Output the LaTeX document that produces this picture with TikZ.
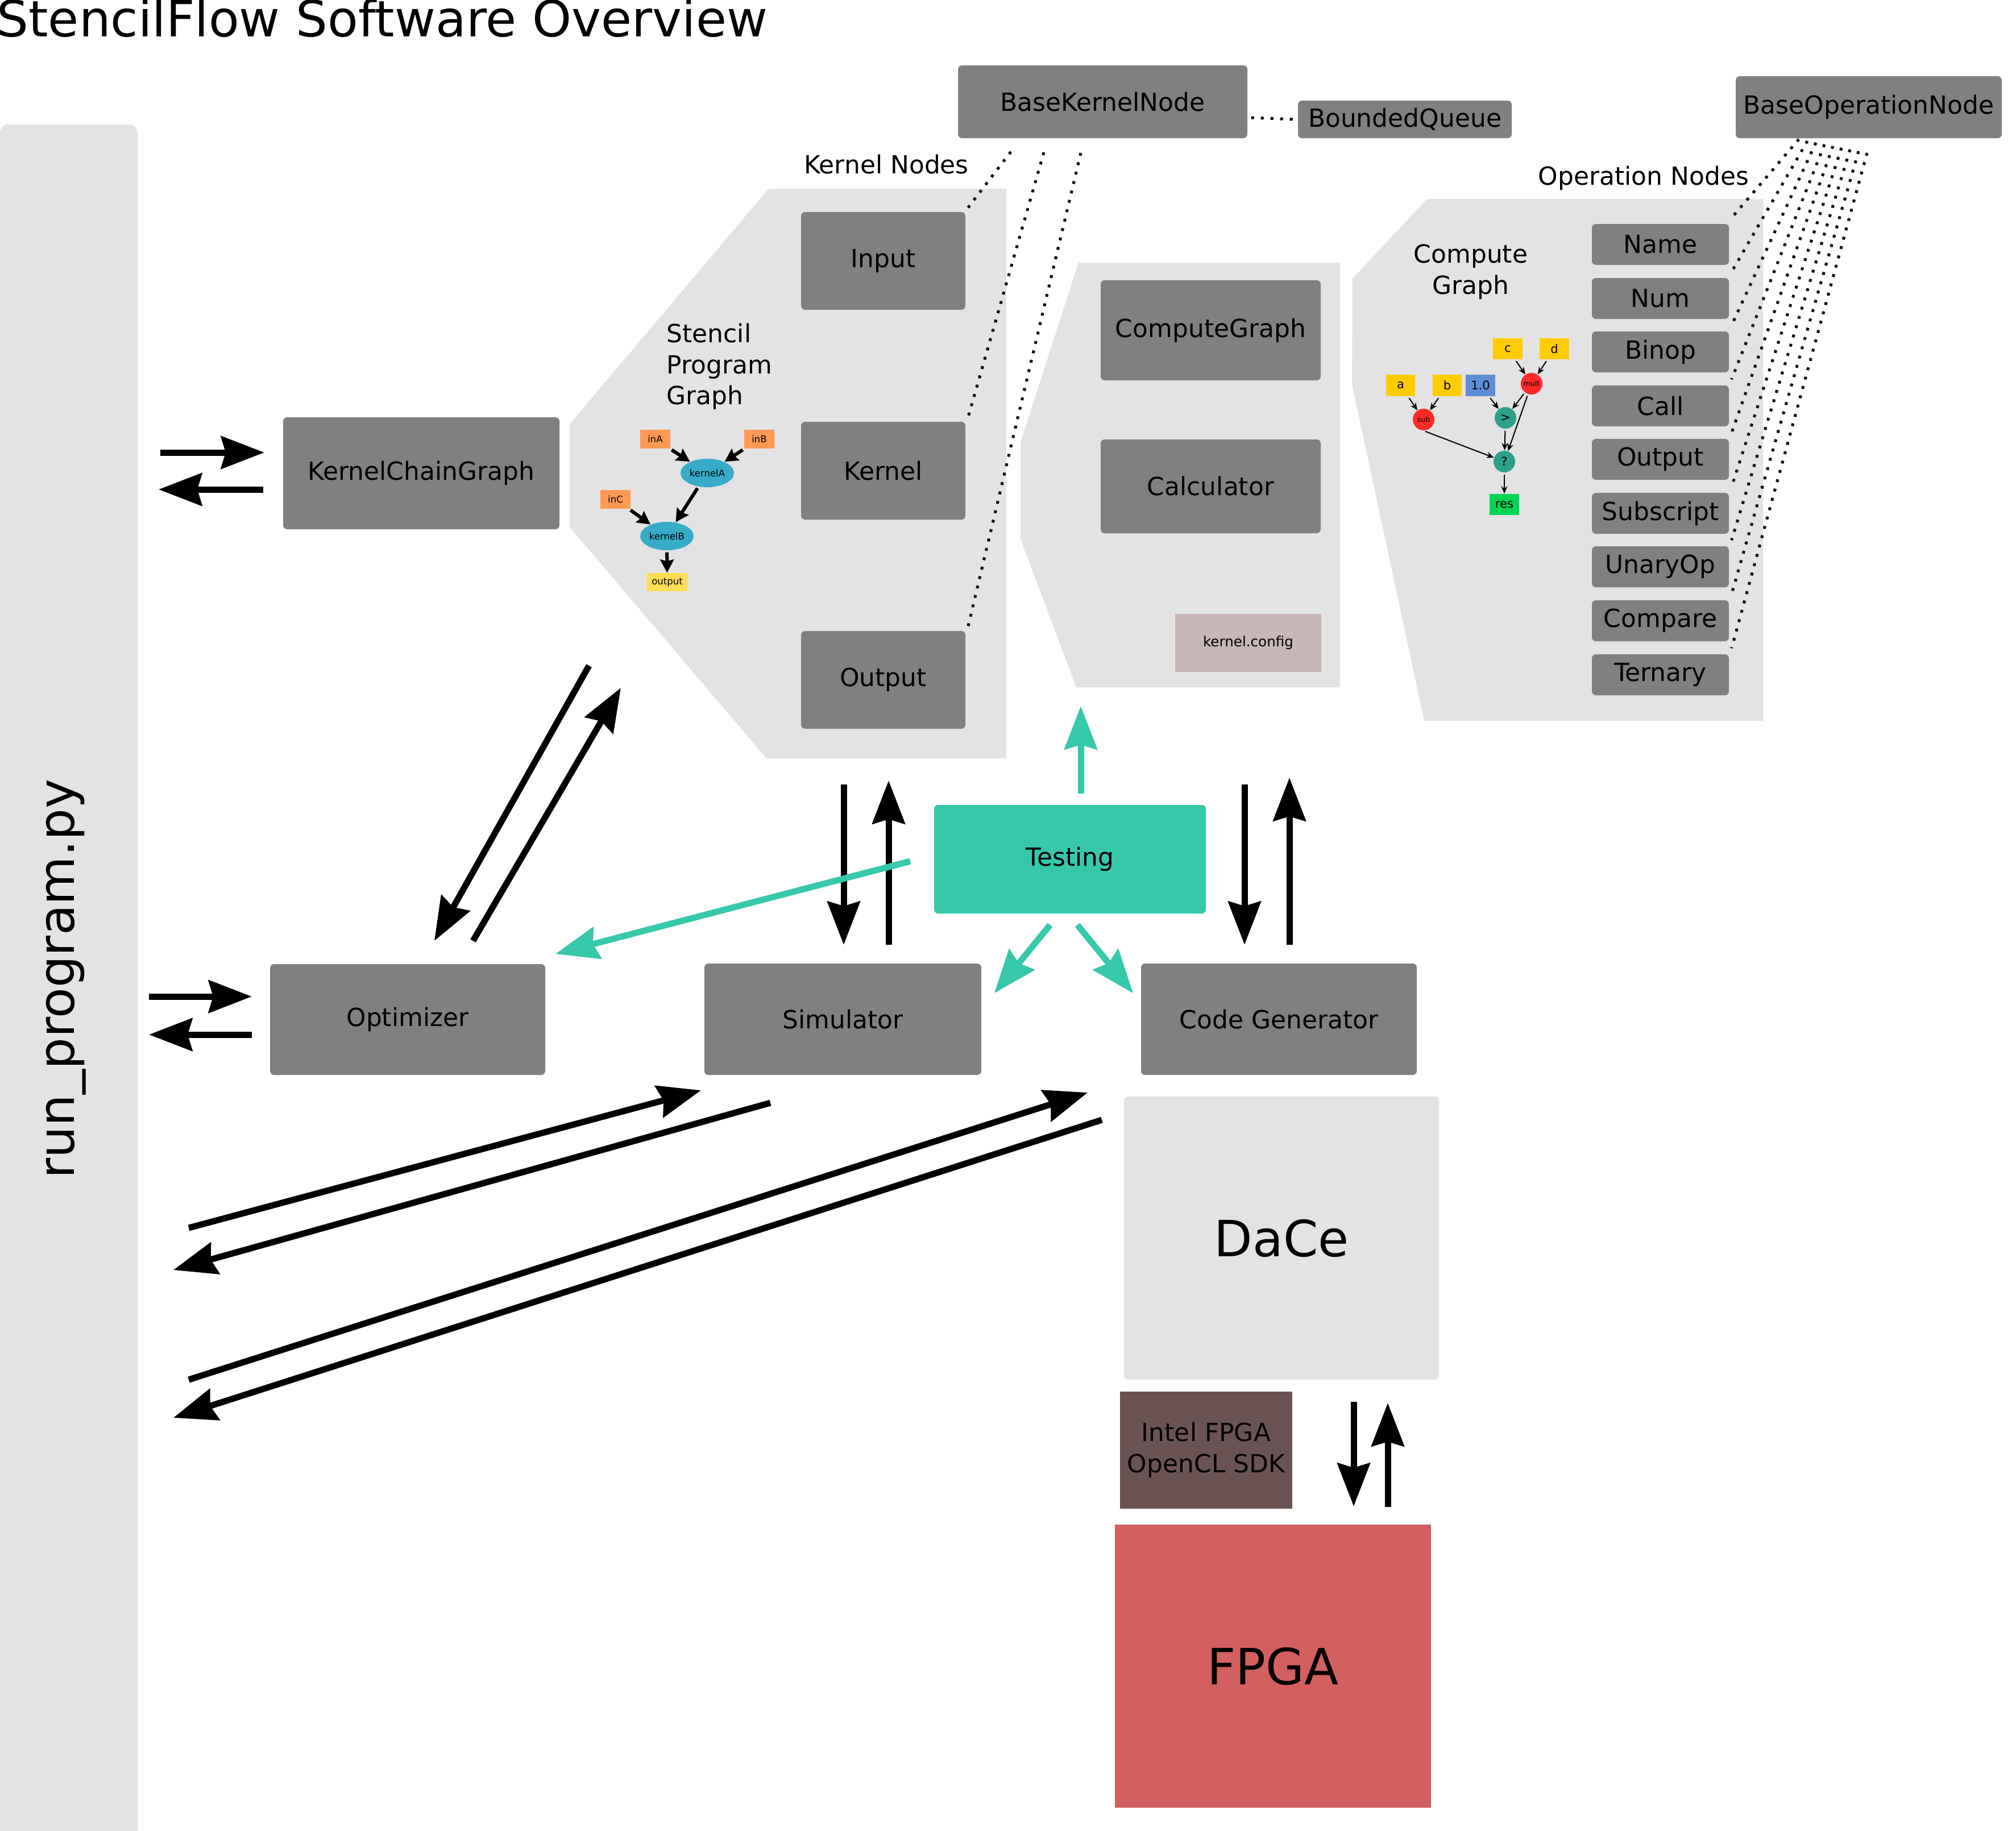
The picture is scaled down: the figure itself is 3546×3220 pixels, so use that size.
\documentclass[tikz,border=0pt]{standalone}
\usepackage{fontspec}
\setmainfont{DejaVu Sans}
\usetikzlibrary{arrows.meta,fit,shapes.geometric}
\definecolor{boxgrey}{HTML}{808080}
\definecolor{panelgrey}{HTML}{E3E3E3}
\definecolor{tealc}{HTML}{37C8AB}
\definecolor{intelc}{HTML}{6C5353}
\definecolor{fpgac}{HTML}{D35F5F}
\definecolor{cfgc}{HTML}{C8B7B7}
\definecolor{orangec}{HTML}{FF9955}
\definecolor{bluec}{HTML}{37ABC8}
\definecolor{yellowo}{HTML}{FFDD55}
\definecolor{yellowc}{HTML}{FFCC00}
\definecolor{blue10}{HTML}{5F8DD3}
\definecolor{redc}{HTML}{FF2A2A}
\definecolor{tealdk}{HTML}{2CA089}
\definecolor{greenc}{HTML}{00D455}
\newcommand{\mybox}[7]{\node[#1, minimum width={(#5-#3)*0.01cm}, minimum height={(#6-#4)*0.01cm}] (#2) at ({(#3+#5)/2},{(#4+#6)/2}) {#7};}
\begin{document}
\begin{tikzpicture}[x=0.01cm,y=-0.01cm,font=\fontsize{12.5}{15.5}\selectfont]
\tikzset{
 gbox/.style={fill=boxgrey, rounded corners=0.07cm, inner sep=0pt},
 panel/.style={fill=panelgrey},
 bigarrow/.style={line width=0.11cm, -{Stealth[length=0.76cm,width=0.57cm,inset=0.08cm]}},
 tealarrow/.style={bigarrow, draw=tealc},
 sgbox/.style={inner sep=0pt, font=\fontsize{4.7}{5}\selectfont},
 sgarrow/.style={line width=0.06cm, -{Stealth[length=0.23cm,width=0.24cm,inset=0.03cm]}, shorten <=0.03cm},
 cgbox/.style={inner sep=0pt, font=\fontsize{6}{7}\selectfont},
 cgcirc/.style={circle, minimum size=0.38cm, inner sep=0pt, font=\fontsize{6}{7}\selectfont},
 cgarrow/.style={line width=0.02cm, -{Stealth[length=0.13cm,width=0.11cm]}, shorten <=0.03cm},
 dotline/.style={line width=0.05cm, dash pattern=on 0.05cm off 0.12cm},
}
\useasboundingbox (0,0) rectangle (3546,3220);
\fill[white] (0,0) rectangle (3546,3220);

% title
\node[anchor=base west, inner sep=0pt, font=\fontsize{25}{30}\selectfont] (title) at (-6,64) {StencilFlow Software Overview};

% run_program bar
\node[fill=panelgrey, rounded corners=0.15cm, inner sep=0pt, fit={(0,219)(242,3240)}] (runbar) {};
\node[rotate=90, font=\fontsize{25}{30}\selectfont] (runlabel) at (116,1722) {run\_program.py};

% panels
\fill[panel] (1352,332) -- (1770,332) -- (1770,1334) -- (1348,1334) -- (1002,927) -- (1002,746) -- cycle;
\fill[panel] (1897,462) -- (2357,462) -- (2357,1209) -- (1893,1209) -- (1795,948) -- (1795,778) -- cycle;
\fill[panel] (2510,350) -- (3101,350) -- (3101,1268) -- (2505,1268) -- (2378,676) -- (2379,490) -- cycle;

% labels
\node[anchor=base] (knlabel) at (1559,305) {Kernel Nodes};
\node[anchor=base] (onlabel) at (2891,325) {Operation Nodes};
\node[anchor=west, align=left, inner sep=0pt] (splabel) at (1172,645) {Stencil\\Program\\Graph};
\node[align=center, inner sep=0pt] (cglabel) at (2587,478) {Compute\\Graph};

% top boxes
\mybox{gbox}{bkn}{1685}{115}{2194}{243}{BaseKernelNode}
\mybox{gbox}{bq}{2283}{177}{2659}{243}{BoundedQueue}
\mybox{gbox}{bon}{3053}{134}{3521}{243}{BaseOperationNode}

% kernel nodes
\mybox{gbox}{input}{1409}{373}{1698}{545}{Input}
\mybox{gbox}{kernel}{1409}{742}{1698}{914}{Kernel}
\mybox{gbox}{outputk}{1409}{1110}{1698}{1282}{Output}

% compute graph / calculator
\mybox{gbox}{cgbox}{1936}{493}{2323}{669}{ComputeGraph}
\mybox{gbox}{calc}{1936}{773}{2323}{938}{Calculator}
\mybox{fill=cfgc, inner sep=0pt, font=\fontsize{7}{8}\selectfont}{kcfg}{2067}{1080}{2324}{1182}{kernel.config}

% operation nodes
\mybox{gbox}{op1}{2800}{394}{3041}{466}{Name}
\mybox{gbox}{op2}{2800}{489}{3041}{561}{Num}
\mybox{gbox}{op3}{2800}{583}{3041}{655}{Binop}
\mybox{gbox}{op4}{2800}{678}{3041}{750}{Call}
\mybox{gbox}{op5}{2800}{772}{3041}{844}{Output}
\mybox{gbox}{op6}{2800}{867}{3041}{939}{Subscript}
\mybox{gbox}{op7}{2800}{961}{3041}{1033}{UnaryOp}
\mybox{gbox}{op8}{2800}{1056}{3041}{1128}{Compare}
\mybox{gbox}{op9}{2800}{1151}{3041}{1223}{Ternary}

% main boxes
\mybox{gbox}{kcg}{498}{734}{984}{931}{KernelChainGraph}
\mybox{gbox}{opt}{475}{1696}{959}{1891}{Optimizer}
\mybox{gbox}{sim}{1239}{1695}{1726}{1891}{Simulator}
\mybox{gbox}{cgen}{2007}{1695}{2492}{1891}{Code Generator}
\mybox{fill=tealc, rounded corners=0.07cm, inner sep=0pt}{testing}{1643}{1416}{2121}{1607}{Testing}
\mybox{fill=panelgrey, rounded corners=0.07cm, inner sep=0pt, font=\fontsize{25}{30}\selectfont}{dace}{1977}{1929}{2531}{2427}{DaCe}
\mybox{fill=intelc, inner sep=0pt, align=center}{intel}{1970}{2448}{2273}{2654}{Intel FPGA\\OpenCL SDK}
\mybox{fill=fpgac, inner sep=0pt, font=\fontsize{25}{30}\selectfont}{fpga}{1961}{2682}{2517}{3180}{FPGA}

% stencil program graph
\mybox{sgbox, fill=orangec}{inA}{1126}{756}{1179}{789}{inA}
\mybox{sgbox, fill=orangec}{inB}{1309}{756}{1362}{789}{inB}
\mybox{sgbox, fill=orangec}{inC}{1056}{862}{1109}{895}{inC}
\node[ellipse, fill=bluec, minimum width=0.94cm, minimum height=0.5cm, inner sep=0pt, font=\fontsize{4.7}{5}\selectfont] (kA) at (1244,832) {kernelA};
\node[ellipse, fill=bluec, minimum width=0.94cm, minimum height=0.5cm, inner sep=0pt, font=\fontsize{4.7}{5}\selectfont] (kB) at (1173,943) {kernelB};
\mybox{sgbox, fill=yellowo}{sout}{1138}{1008}{1209}{1040}{output}
\draw[sgarrow] (inA) -- (kA);
\draw[sgarrow] (inB) -- (kA);
\draw[sgarrow] (kA) -- (kB);
\draw[sgarrow] (inC) -- (kB);
\draw[sgarrow] (kB) -- (sout);

% compute graph
\mybox{cgbox, fill=yellowc}{ca}{2438}{659}{2489}{697}{a}
\mybox{cgbox, fill=yellowc}{cb}{2520}{659}{2571}{697}{b}
\mybox{cgbox, fill=blue10}{c10}{2578}{659}{2630}{697}{1.0}
\mybox{cgbox, fill=yellowc}{cc}{2626}{595}{2678}{632}{c}
\mybox{cgbox, fill=yellowc}{cd}{2708}{595}{2760}{632}{d}
\node[cgcirc, fill=redc, font=\fontsize{3.6}{4}\selectfont] (cmult) at (2694,675) {mult};
\node[cgcirc, fill=redc, font=\fontsize{3.6}{4}\selectfont] (csub) at (2504,738) {sub};
\node[cgcirc, fill=tealdk] (cgt) at (2648,735) {>};
\node[cgcirc, fill=tealdk] (cq) at (2646,812) {?};
\mybox{cgbox, fill=greenc}{cres}{2620}{869}{2672}{906}{res}
\draw[cgarrow] (ca) -- (csub);
\draw[cgarrow] (cb) -- (csub);
\draw[cgarrow] (c10) -- (cgt);
\draw[cgarrow] (cc) -- (cmult);
\draw[cgarrow] (cd) -- (cmult);
\draw[cgarrow] (cmult) -- (cgt);
\draw[cgarrow] (cmult) -- (cq);
\draw[cgarrow] (cgt) -- (cq);
\draw[cgarrow] (csub.south) -- (cq);
\draw[cgarrow] (cq) -- (cres);

% dotted lines kernel nodes
\coordinate (bk1) at (1778,267);
\coordinate (bk2) at (1836,268);
\coordinate (bk3) at (1901,269);
\draw[dotline] (bk1) -- ([shift={(4,-7)}]input.north east);
\draw[dotline] (bk2) -- ([shift={(4,-7)}]kernel.north east);
\draw[dotline] (bk3) -- ([shift={(4,-7)}]outputk.north east);
\draw[dotline] ([shift={(6,28)}]bkn.east) -- ([shift={(-6,0)}]bq.west);

% dotted lines operation nodes
\foreach \i in {1,...,9}{
  \coordinate (bo\i) at ({3164+(\i-1)*15},{245+(\i-1)*3});
  \draw[dotline] (bo\i) -- ([shift={(4,-10)}]op\i.north east);
}

% black arrows left
\coordinate (a1s) at (282,796); \coordinate (a1e) at (465,796);
\coordinate (a2s) at (463,861); \coordinate (a2e) at (279,861);
\draw[bigarrow] (a1s) -- (a1e);
\draw[bigarrow] (a2s) -- (a2e);
\coordinate (a3s) at (262,1753); \coordinate (a3e) at (443,1753);
\coordinate (a4s) at (443,1820); \coordinate (a4e) at (262,1820);
\draw[bigarrow] (a3s) -- (a3e);
\draw[bigarrow] (a4s) -- (a4e);

% kcg panel <-> optimizer
\coordinate (b1s) at (1036,1171); \coordinate (b1e) at (764,1655);
\coordinate (b2s) at (832,1655); \coordinate (b2e) at (1092,1210);
\draw[bigarrow] (b1s) -- (b1e);
\draw[bigarrow] (b2s) -- (b2e);

% simulator arrows
\coordinate (c1s) at (1484,1380); \coordinate (c1e) at (1484,1662);
\coordinate (c2s) at (1563,1662); \coordinate (c2e) at (1563,1373);
\draw[bigarrow] (c1s) -- (c1e);
\draw[bigarrow] (c2s) -- (c2e);

% code generator arrows
\coordinate (d1s) at (2189,1380); \coordinate (d1e) at (2189,1662);
\coordinate (d2s) at (2268,1662); \coordinate (d2e) at (2268,1368);
\draw[bigarrow] (d1s) -- (d1e);
\draw[bigarrow] (d2s) -- (d2e);

% long arrows
\coordinate (e1s) at (332,2160); \coordinate (e1e) at (1233,1918);
\coordinate (e2s) at (1355,1940); \coordinate (e2e) at (305,2234);
\coordinate (e3s) at (332,2427); \coordinate (e3e) at (1913,1922);
\coordinate (e4s) at (1938,1970); \coordinate (e4e) at (305,2494);
\draw[bigarrow] (e1s) -- (e1e);
\draw[bigarrow] (e2s) -- (e2e);
\draw[bigarrow] (e3s) -- (e3e);
\draw[bigarrow] (e4s) -- (e4e);

% dace <-> fpga
\coordinate (f1s) at (2381,2466); \coordinate (f1e) at (2381,2650);
\coordinate (f2s) at (2441,2651); \coordinate (f2e) at (2441,2468);
\draw[bigarrow] (f1s) -- (f1e);
\draw[bigarrow] (f2s) -- (f2e);

% teal arrows
\coordinate (t1s) at (1601,1515); \coordinate (t1e) at (977,1678);
\coordinate (t2s) at (1847,1627); \coordinate (t2e) at (1749,1747);
\coordinate (t3s) at (1895,1627); \coordinate (t3e) at (1993,1747);
\coordinate (t4s) at (1901,1396); \coordinate (t4e) at (1901,1242);
\draw[tealarrow] (t1s) -- (t1e);
\draw[tealarrow] (t2s) -- (t2e);
\draw[tealarrow] (t3s) -- (t3e);
\draw[tealarrow] (t4s) -- (t4e);
\end{tikzpicture}
\end{document}
